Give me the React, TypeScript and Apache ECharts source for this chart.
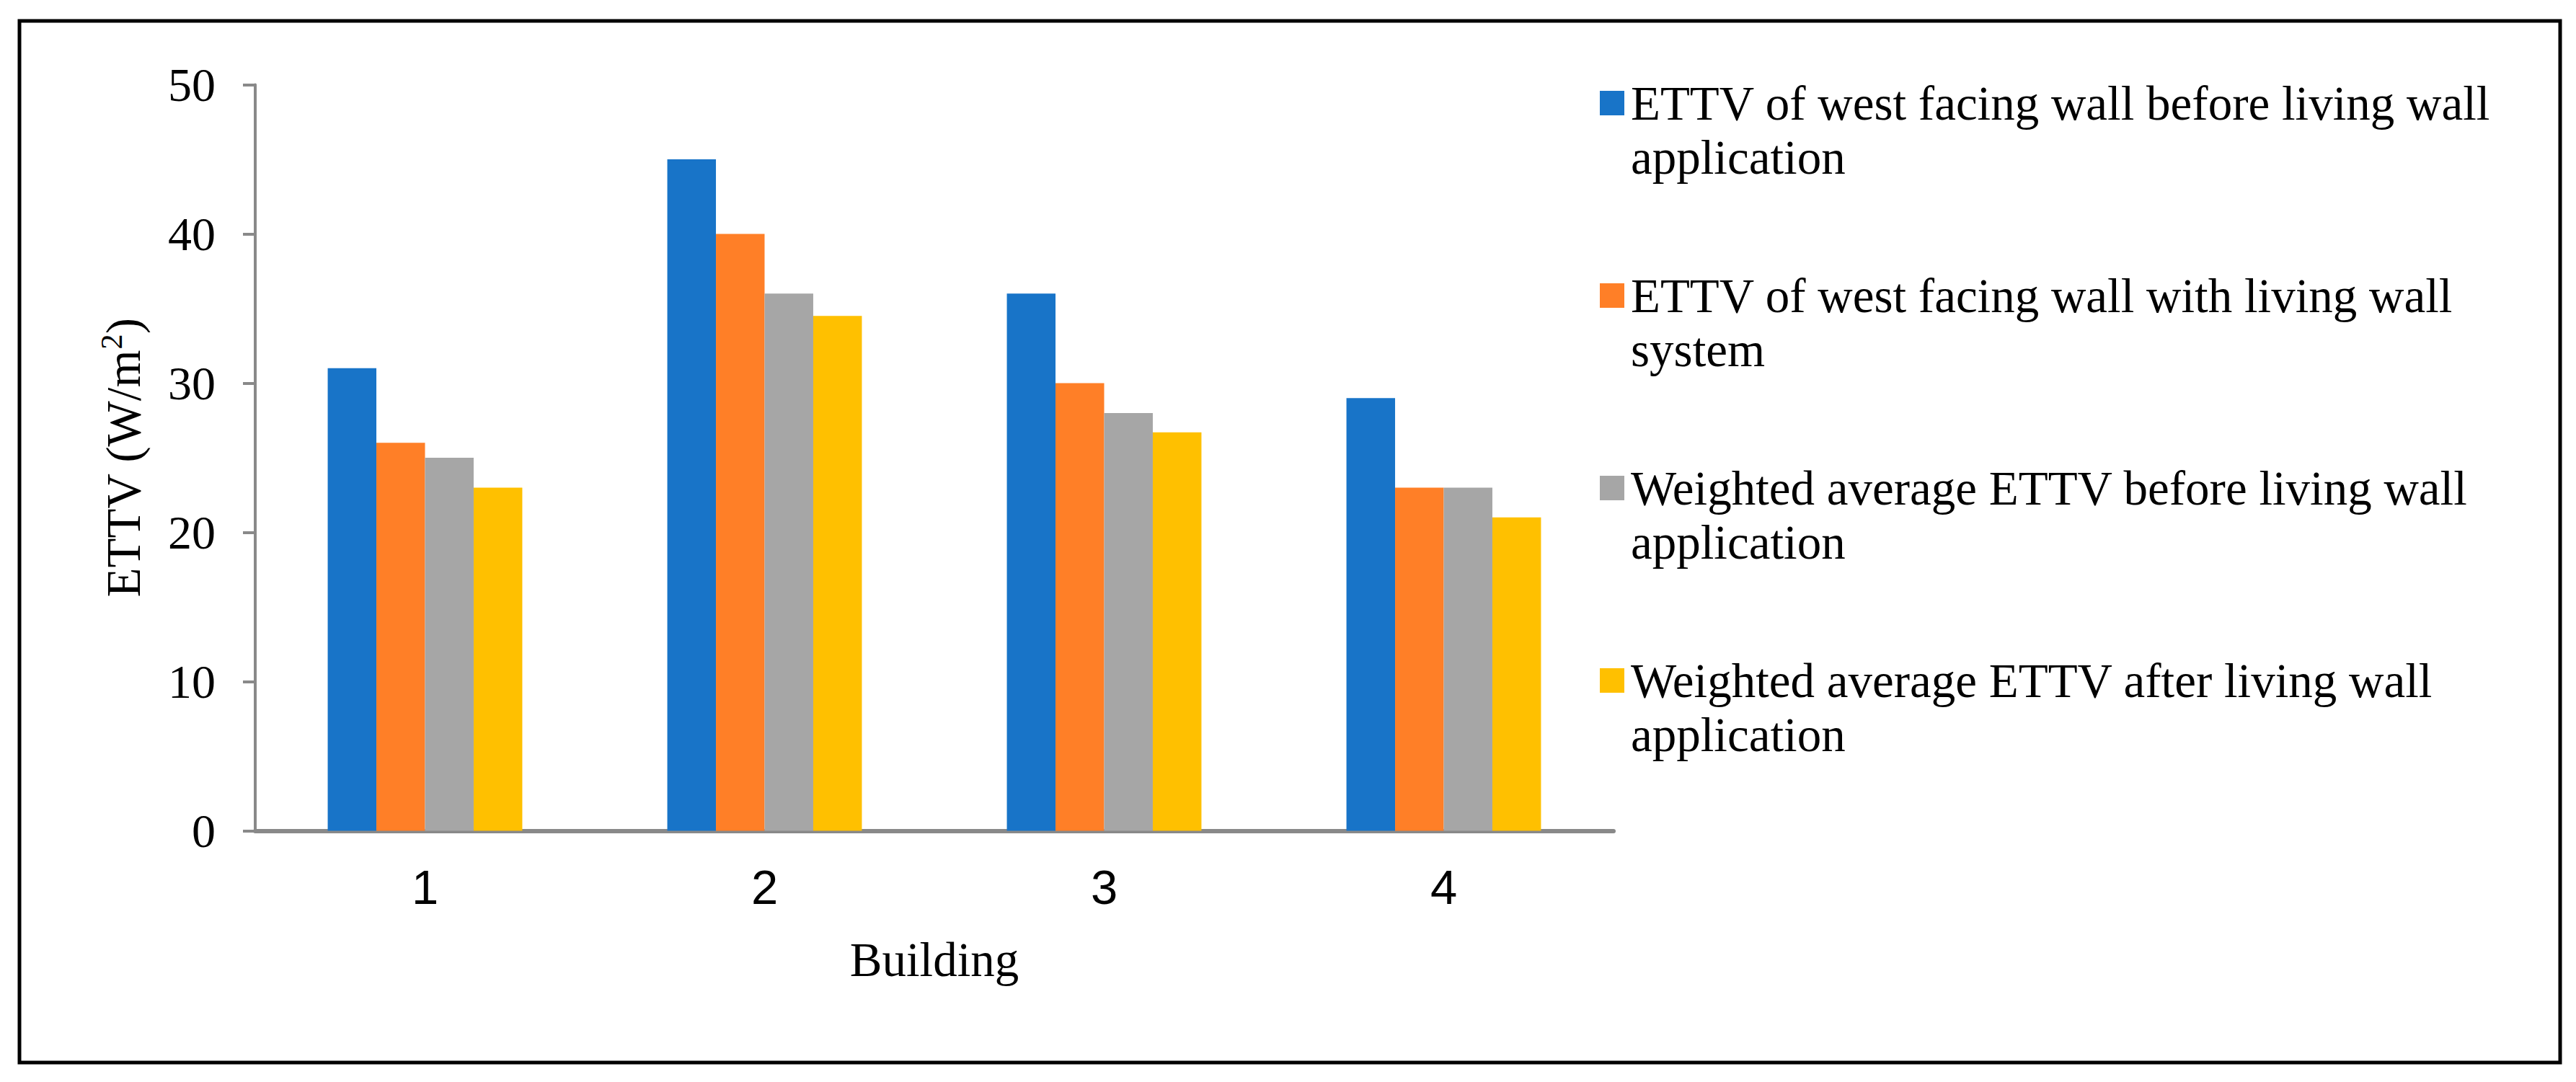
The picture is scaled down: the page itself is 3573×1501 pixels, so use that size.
import { useEffect, useRef } from 'react';
import * as echarts from 'echarts';

const categories = ['1', '2', '3', '4'];
const legendLines = [
  ['ETTV of west facing wall before living wall', 'application'],
  ['ETTV of west facing wall with living wall', 'system'],
  ['Weighted average ETTV before living wall', 'application'],
  ['Weighted average ETTV after living wall', 'application'],
];
const seriesNames = legendLines.map((l) => l.join(' '));
const westBefore = [31, 45, 36, 29];
const westWith = [26, 40, 30, 23];
const avgBefore = [25, 36, 28, 23];
const avgAfter = [23, 34.5, 26.7, 21];
const seriesValues = [westBefore, westWith, avgBefore, avgAfter];
const colors = ['#1874C8', '#FF7F27', '#A6A6A6', '#FFC000'];
const yMin = 0;
const yMax = 50;
const yInterval = 10;
const xName = 'Building';

const W = 3573;
const H = 1501;
const SERIF = "'Liberation Serif', 'Times New Roman', serif";
const SANS = "'Liberation Sans', Arial, sans-serif";

export default function App() {
  const ref = useRef<HTMLDivElement>(null);
  useEffect(() => {
    document.body.style.margin = '0';
    const chart = echarts.init(ref.current!, null, { renderer: 'svg', width: W, height: H });
    const option: any = {
      animation: false,
      backgroundColor: '#ffffff',
      color: colors,
      grid: { left: 354, right: W - 2238, top: 117.5, bottom: H - 1152.5, containLabel: false },
      xAxis: {
        type: 'category',
        data: categories,
        name: xName,
        nameLocation: 'middle',
        nameGap: 145,
        nameTextStyle: { fontFamily: SERIF, fontSize: 67, lineHeight: 67, color: '#000' },
        axisLine: { lineStyle: { color: '#898989', width: 6 } },
        axisTick: { show: false },
        axisLabel: { fontFamily: SANS, fontSize: 67, lineHeight: 67, color: '#000', margin: 44 },
      },
      yAxis: {
        type: 'value',
        min: yMin,
        max: yMax,
        interval: yInterval,
        name: '{a|ETTV (W/m}{b|2}{a|)}',
        nameLocation: 'middle',
        nameGap: 146,
        nameTextStyle: {
          color: '#000',
          rich: {
            a: { fontFamily: SERIF, fontSize: 67, lineHeight: 75, color: '#000' },
            b: { fontFamily: SERIF, fontSize: 43, lineHeight: 50, verticalAlign: 'top', color: '#000' },
          },
        },
        axisLine: { show: true, lineStyle: { color: '#898989', width: 4 } },
        axisTick: { show: true, length: 17, lineStyle: { color: '#898989', width: 4 } },
        splitLine: { show: false },
        axisLabel: { fontFamily: SERIF, fontSize: 66, color: '#000', margin: 55 },
      },
      legend: {
        orient: 'vertical',
        left: 2214,
        top: 25.5,
        itemWidth: 34,
        itemHeight: 34,
        itemGap: 42,
        icon: 'rect',
        data: seriesNames,
        formatter: (name: string) => {
          const i = seriesNames.indexOf(name);
          // leading empty line keeps the square aligned with the first text line
          return '\n' + legendLines[i].join('\n');
        },
        textStyle: {
          fontFamily: SERIF,
          fontSize: 67,
          lineHeight: 75,
          color: '#000',
          padding: [0, 0, 0, 4],
        },
      },
      series: seriesValues.map((vals, i) => ({
        type: 'bar',
        name: seriesNames[i],
        data: vals,
        barGap: '0%',
        barCategoryGap: '42.7%',
        itemStyle: { color: colors[i] },
      })),
      graphic: [
        {
          type: 'rect',
          shape: { x: 27, y: 29, width: 3524, height: 1445 },
          style: { fill: 'none', stroke: '#000', lineWidth: 5 },
          silent: true,
        },
      ],
    };
    chart.setOption(option);
    return () => chart.dispose();
  }, []);
  return <div ref={ref} style={{ width: W, height: H }} />;
}
